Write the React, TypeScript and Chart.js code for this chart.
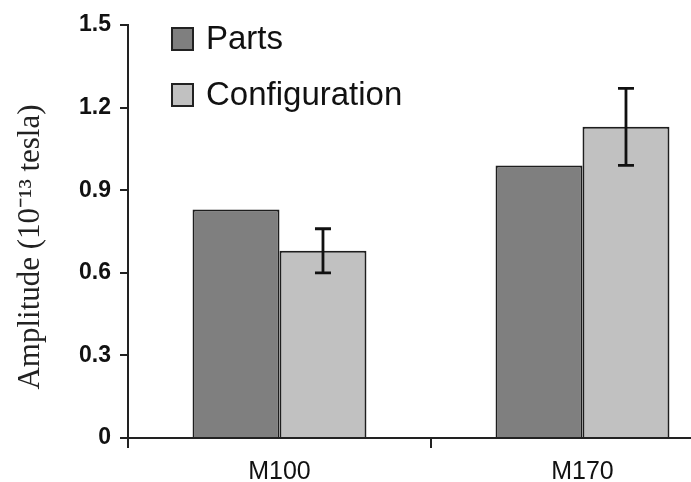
import React, { useEffect, useRef } from "react";
import { Chart, registerables } from "chart.js";

Chart.register(...registerables);

const categories = ["M100", "M170"];
const seriesNames = ["Parts", "Configuration"];
const partsValues = [0.83, 0.99];
const configValues = [0.68, 1.13];
const configErrors = [0.08, 0.14];
const yTickValues = [0, 0.3, 0.6, 0.9, 1.2, 1.5];
const yTitle = "Amplitude (10\u207B\u00B9\u00B3 tesla)";

const partsColor = "#7f7f7f";
const configColor = "#c1c1c1";
const edgeColor = "#1e1e1e";

const errorBarPlugin = {
  id: "errorBars",
  afterDatasetsDraw(chart: any) {
    const meta = chart.getDatasetMeta(1);
    const y = chart.scales.y;
    const ctx = chart.ctx;
    ctx.save();
    ctx.strokeStyle = "#111";
    ctx.lineWidth = 2.8;
    meta.data.forEach((el: any, i: number) => {
      const v = configValues[i];
      const e = configErrors[i];
      const top = y.getPixelForValue(v + e);
      const bot = y.getPixelForValue(v - e);
      const x = el.x;
      ctx.beginPath();
      ctx.moveTo(x, top);
      ctx.lineTo(x, bot);
      ctx.moveTo(x - 8, top);
      ctx.lineTo(x + 8, top);
      ctx.moveTo(x - 8, bot);
      ctx.lineTo(x + 8, bot);
      ctx.stroke();
    });
    ctx.restore();
  },
};

const legendPlugin = {
  id: "insideLegend",
  afterDraw(chart: any) {
    const ctx = chart.ctx;
    const area = chart.chartArea;
    ctx.save();
    chart.data.datasets.forEach((ds: any, i: number) => {
      const bx = area.left + 44;
      const by = area.top + 3 + i * 56;
      ctx.fillStyle = ds.backgroundColor;
      ctx.fillRect(bx, by, 21, 22);
      ctx.strokeStyle = "#222";
      ctx.lineWidth = 2;
      ctx.strokeRect(bx, by, 21, 22);
      ctx.fillStyle = "#111";
      ctx.font = "33px 'Liberation Sans', Arial, sans-serif";
      ctx.textBaseline = "middle";
      ctx.textAlign = "left";
      ctx.fillText(ds.label, bx + 34, by + 12);
    });
    ctx.restore();
  },
};

export default function App() {
  const ref = useRef<HTMLCanvasElement | null>(null);
  useEffect(() => {
    if (!ref.current) return;
    const chart = new Chart(ref.current, {
      type: "bar",
      data: {
        labels: categories,
        datasets: [
          {
            label: seriesNames[0],
            data: partsValues,
            backgroundColor: partsColor,
            borderColor: edgeColor,
            borderWidth: 2,
            categoryPercentage: 0.574,
            barPercentage: 1.0,
          },
          {
            label: seriesNames[1],
            data: configValues,
            backgroundColor: configColor,
            borderColor: edgeColor,
            borderWidth: 2,
            categoryPercentage: 0.574,
            barPercentage: 1.0,
          },
        ],
      },
      options: {
        responsive: false,
        animation: false,
        devicePixelRatio: 1,
        layout: { padding: { top: 25, right: 26, left: 0, bottom: 0 } },
        plugins: {
          legend: { display: false },
          tooltip: { enabled: false },
        },
        scales: {
          x: {
            offset: true,
            grid: {
              offset: true,
              drawOnChartArea: false,
              drawTicks: true,
              tickLength: 10,
              color: "#222",
              lineWidth: 2,
            },
            border: { display: true, color: "#222", width: 2 },
            ticks: {
              color: "#111",
              padding: 9,
              font: { family: "'Liberation Sans', Arial, sans-serif", size: 25 },
            },
            afterFit: (s: any) => {
              s.height = 44;
            },
          },
          y: {
            min: 0,
            max: 1.5,
            afterBuildTicks: (s: any) => {
              s.ticks = yTickValues.map((v) => ({ value: v }));
            },
            grid: {
              drawOnChartArea: false,
              drawTicks: true,
              tickLength: 8,
              color: "#222",
              lineWidth: 2,
            },
            border: { display: true, color: "#222", width: 2 },
            ticks: {
              color: "#111",
              padding: 9,
              font: { family: "'Liberation Sans', Arial, sans-serif", size: 23, weight: "bold" },
              callback: (v: any) => (Number(v) === 0 ? "0" : Number(v).toFixed(1)),
            },
            title: {
              display: true,
              text: yTitle + "    ",
              color: "#222",
              padding: { top: 12, bottom: 0 },
              font: { family: "'Liberation Serif', 'Times New Roman', serif", size: 31 },
            },
            afterFit: (s: any) => {
              s.width = 128;
            },
          },
        },
      },
      plugins: [errorBarPlugin, legendPlugin],
    });
    return () => chart.destroy();
  }, []);
  return (
    <div
      style={{
        position: "fixed",
        left: 0,
        top: 0,
        width: 691,
        height: 482,
        overflow: "hidden",
        background: "#fff",
      }}
    >
      <canvas ref={ref} width={760} height={482} style={{ width: 760, height: 482, display: "block" }} />
    </div>
  );
}
